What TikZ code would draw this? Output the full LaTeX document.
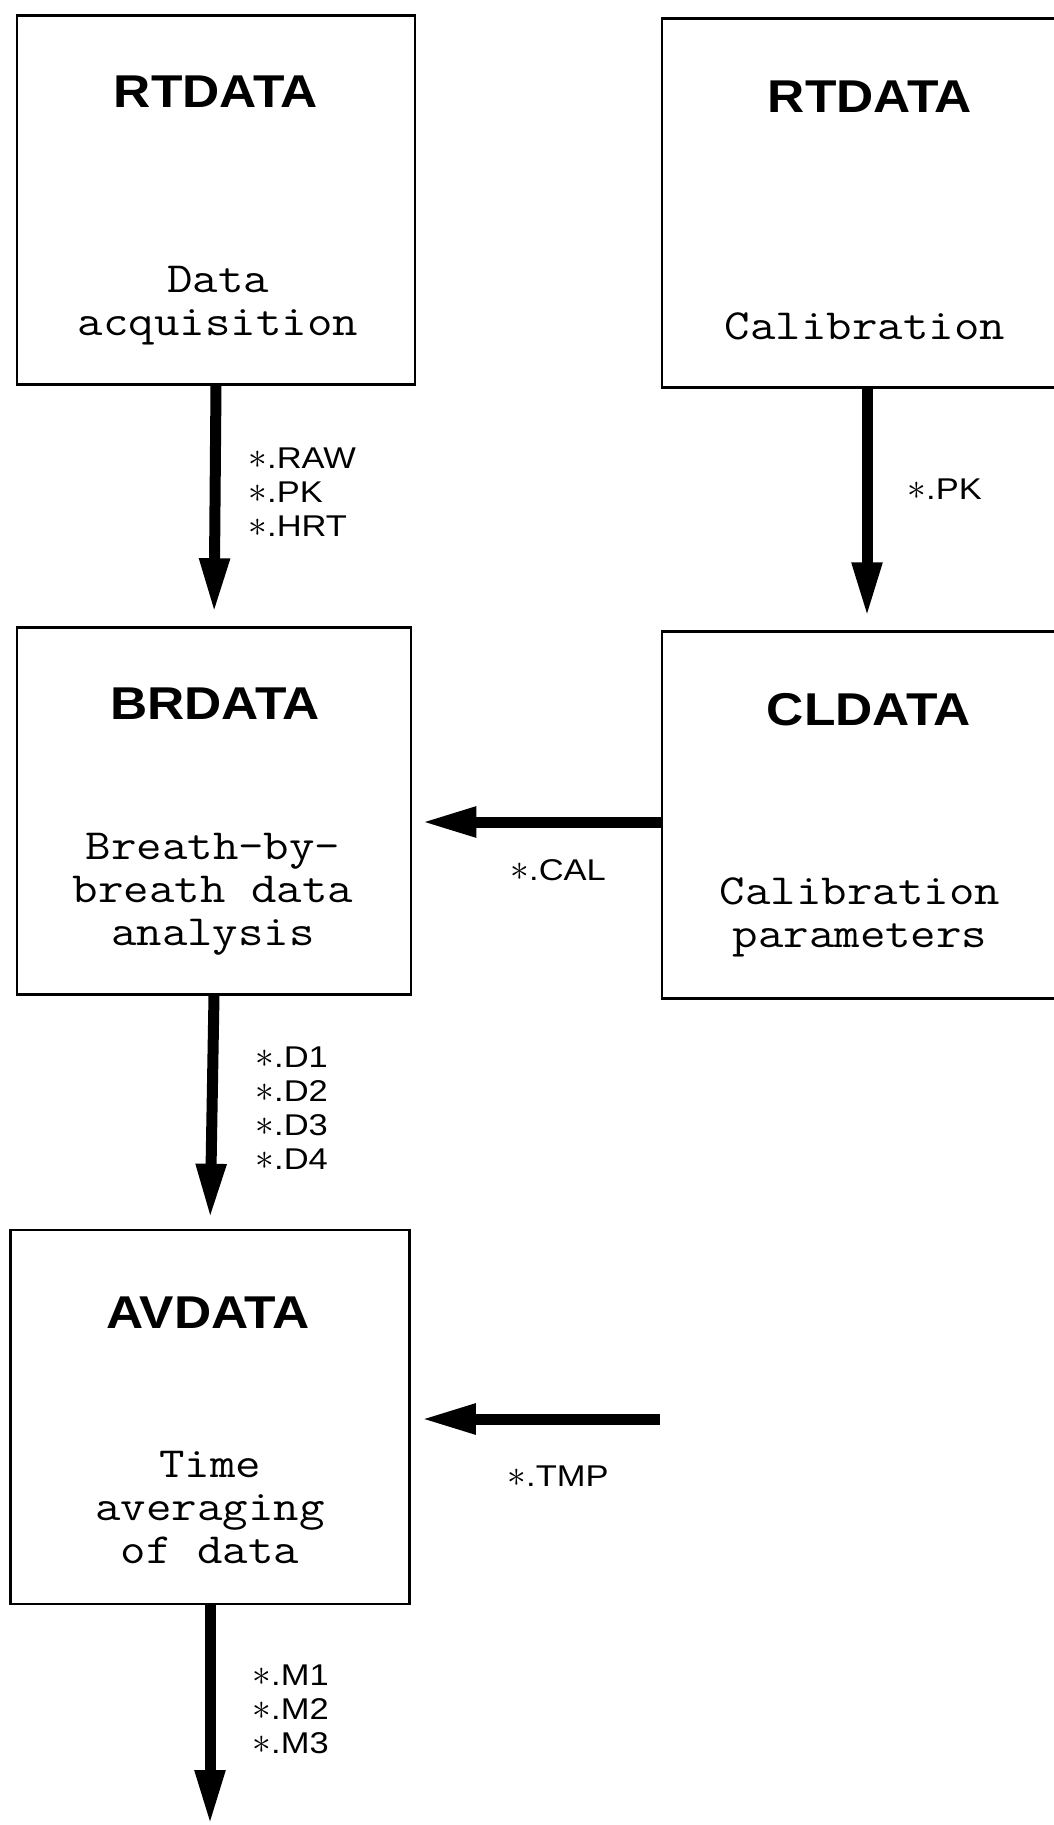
\documentclass[tikz,border=0pt]{standalone}
\usepackage{fontspec}
\usetikzlibrary{arrows.meta}
\newfontfamily\headfont[FakeStretch=1.12]{Liberation Sans}
\newfontfamily\extfont[FakeStretch=1.15]{Liberation Sans}
\newfontfamily\progfont[FakeStretch=1.15]{Latin Modern Mono}
\newcommand\wild{\scalebox{1.5}{$\ast$}}
\begin{document}
\begin{tikzpicture}[x=1pt,y=-1pt,
  box/.style={draw,line width=2.5pt,minimum width=398pt,minimum height=369pt,inner sep=0pt},
  head/.style={font=\headfont\bfseries\fontsize{46}{46}\selectfont},
  desc/.style={font=\progfont\fontsize{43}{43}\selectfont,align=center},
  ext/.style={font=\extfont\fontsize{30}{34}\selectfont,align=left,anchor=west},
  flow/.style={line width=11pt,-{Triangle[length=55pt,width=28pt]}}]
\useasboundingbox (0,0) rectangle (1054,1825);
\node[box] (acq) at (216,200) {};
\node[box,minimum width=410pt] (cal) at (867,203) {};
\node[box,minimum width=394pt,minimum height=367pt] (brd) at (214,811) {};
\node[box,minimum width=410pt,minimum height=367pt] (cld) at (867,815) {};
\node[box,minimum width=399pt,minimum height=374pt] (avd) at (210,1417) {};
\node[head] (acqh) at (216,92) {RTDATA}; \node[desc] (acqd) at (218,306) {Data\\acquisition};
\node[head] (calh) at (870,97) {RTDATA}; \node[desc] (cald) at (865,326) {Calibration};
\node[head] (brdh) at (215,704) {BRDATA};
\node[desc] (brdd) at (213,894) {Breath-by-\\breath data\\analysis};
\node[head] (cldh) at (869,710) {CLDATA};
\node[desc] (cldd) at (860,917) {Calibration\\parameters};
\node[head] (avdh) at (208,1313) {AVDATA};
\node[desc] (avdd) at (210,1507) {Time\\averaging\\of data};
\draw[flow,shorten >=13pt] (acq.south) -- (brd.north);
\node[ext] (raw) at (245,492) {\wild.RAW\\\wild.PK\\\wild.HRT};
\draw[flow,shorten >=13pt] (cal.south) -- (cld.north);
\node[ext] (pk) at (904,489) {\wild.PK};
\coordinate (calin) at ([yshift=-7pt]cld.west);
\draw[flow,shorten >=9pt] (calin) -- (calin -| brd.east);
\node[ext] (calf) at (507,870) {\wild.CAL};
\draw[flow,shorten >=10pt] (brd.south) -- (avd.north);
\node[ext] (dfiles) at (252,1108) {\wild.D1\\\wild.D2\\\wild.D3\\\wild.D4};
\coordinate (tmpin) at (660,1419);
\draw[flow,shorten >=10pt] (tmpin) -- (tmpin -| avd.east);
\node[ext] (tmp) at (504,1476) {\wild.TMP};
\coordinate (out) at (210,1825);
\draw[flow] (avd.south) -- (out);
\node[ext] (mfiles) at (249,1709) {\wild.M1\\\wild.M2\\\wild.M3};
\end{tikzpicture}
\end{document}
